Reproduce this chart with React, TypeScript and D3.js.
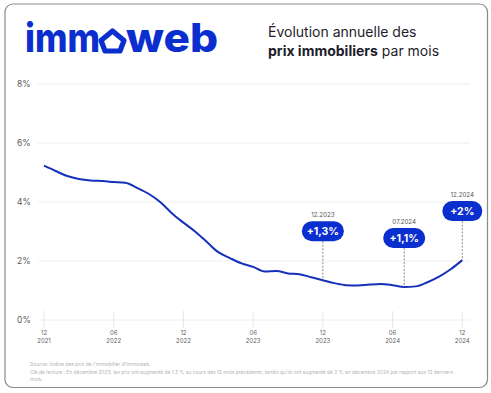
import React from "react";
import * as d3 from "d3";

// monthly annual growth (%), 12/2021 .. 12/2024
const values = [
  5.23, 5.05, 4.88, 4.78, 4.73, 4.71, 4.68, 4.65, 4.48, 4.28, 4.0, 3.62, 3.3,
  3.0, 2.65, 2.3, 2.1, 1.92, 1.8, 1.64, 1.66, 1.58, 1.55, 1.45, 1.35, 1.25,
  1.18, 1.17, 1.2, 1.22, 1.18, 1.12, 1.14, 1.28, 1.47, 1.72, 2.03,
];
const tickMonths = [0, 6, 12, 18, 24, 30, 36];
const tickTop = ["12", "06", "12", "06", "12", "06", "12"];
const tickBottom = ["2021", "2022", "2022", "2023", "2023", "2024", "2024"];
const yTicks = [0, 2, 4, 6, 8];
const calloutMonths = [24, 31, 36];
const calloutDates = ["12.2023", "07.2024", "12.2024"];
const calloutLabels = ["+1,3%", "+1,1%", "+2%"];

const W = 491;
const H = 393;
const BLUE = "#0b2fcf";
const LINE = "#1631b9";
const FONT = "Inter, 'Noto Sans', sans-serif";

export default function App() {
  const x = d3.scaleLinear().domain([0, 36]).range([44, 462.3]);
  const y = d3.scaleLinear().domain([0, 8]).range([320, 84]);
  const line = d3
    .line<number>()
    .x((_, i) => x(i))
    .y((d) => y(d))
    .curve(d3.curveMonotoneX);

  return (
    <svg
      width={W}
      height={H}
      style={{ position: "fixed", left: 0, top: 0, background: "#fff" }}
      fontFamily={FONT}
    >
      <rect x={5} y={4} width={482.5} height={383.5} rx={8} fill="#fff" stroke="#8a8a8a" strokeWidth={1.2} />

      {/* logo */}
      <g fill={BLUE} fontWeight={800} fontSize={40}>
        <text x={25} y={51.5} textLength={75} lengthAdjust="spacingAndGlyphs">imm</text>
        <path
          d="M112.5 31 L124 40.5 L120 51 L105 51 L101 40.5 Z"
          fill="none"
          stroke={BLUE}
          strokeWidth={5.2}
          strokeLinejoin="round"
        />
        <text x={126} y={51.5} textLength={92} lengthAdjust="spacingAndGlyphs">web</text>
      </g>

      {/* title */}
      <g fill="#1d1d2b" fontSize={14}>
        <text x={268} y={37}>Évolution annuelle des</text>
        <text x={268} y={55.5}>
          <tspan fontWeight={700}>prix immobiliers</tspan> par mois
        </text>
      </g>

      {/* grid */}
      {yTicks.map((t) => (
        <g key={t}>
          <line x1={38} x2={470} y1={y(t)} y2={y(t)} stroke="#eeeeee" strokeWidth={1} />
          <text x={17} y={y(t) + 3} fontSize={8.5} fill="#5a5a5a">
            {t}%
          </text>
        </g>
      ))}

      {/* x ticks */}
      {tickMonths.map((m, i) => (
        <g key={m}>
          <line x1={x(m)} x2={x(m)} y1={311} y2={328} stroke="#e6e6e6" strokeWidth={1} />
          <text x={x(m)} y={335} fontSize={6} fill="#5f5f5f" textAnchor="middle">
            {tickTop[i]}
          </text>
          <text x={x(m)} y={343} fontSize={6} fill="#5f5f5f" textAnchor="middle">
            {tickBottom[i]}
          </text>
        </g>
      ))}

      <path d={line(values) || ""} fill="none" stroke={LINE} strokeWidth={2} strokeLinejoin="round" />

      {/* callouts */}
      {calloutMonths.map((m, i) => {
        const cx = x(m);
        const cy = y(values[m]) - 49;
        const w = calloutLabels[i].length > 3 ? 42 : 40;
        return (
          <g key={m}>
            <line
              x1={cx}
              x2={cx}
              y1={cy + 10}
              y2={y(values[m])}
              stroke="#6a6a6a"
              strokeWidth={0.8}
              strokeDasharray="2,1.5"
            />
            <rect x={cx - w / 2} y={cy - 10} width={w} height={20} rx={10} fill={BLUE} />
            <text x={cx} y={cy + 3.8} fontSize={10.5} fontWeight={700} fill="#fff" textAnchor="middle">
              {calloutLabels[i]}
            </text>
            <text x={cx} y={cy - 14} fontSize={6.2} fill="#555" textAnchor="middle">
              {calloutDates[i]}
            </text>
          </g>
        );
      })}

      {/* footnote */}
      <g fontSize={5} fill="#b4b4b4">
        <text x={30} y={366}>Source: Indice des prix de l'immobilier d'Immoweb.</text>
        <text x={30} y={373.5} textLength={423} lengthAdjust="spacingAndGlyphs">
          Clé de lecture : En décembre 2023, les prix ont augmenté de 1,3 % au cours des 12 mois précédents, tandis qu'ils ont augmenté de 2 % en décembre 2024 par rapport aux 12 derniers
        </text>
        <text x={30} y={381}>mois.</text>
      </g>
    </svg>
  );
}
